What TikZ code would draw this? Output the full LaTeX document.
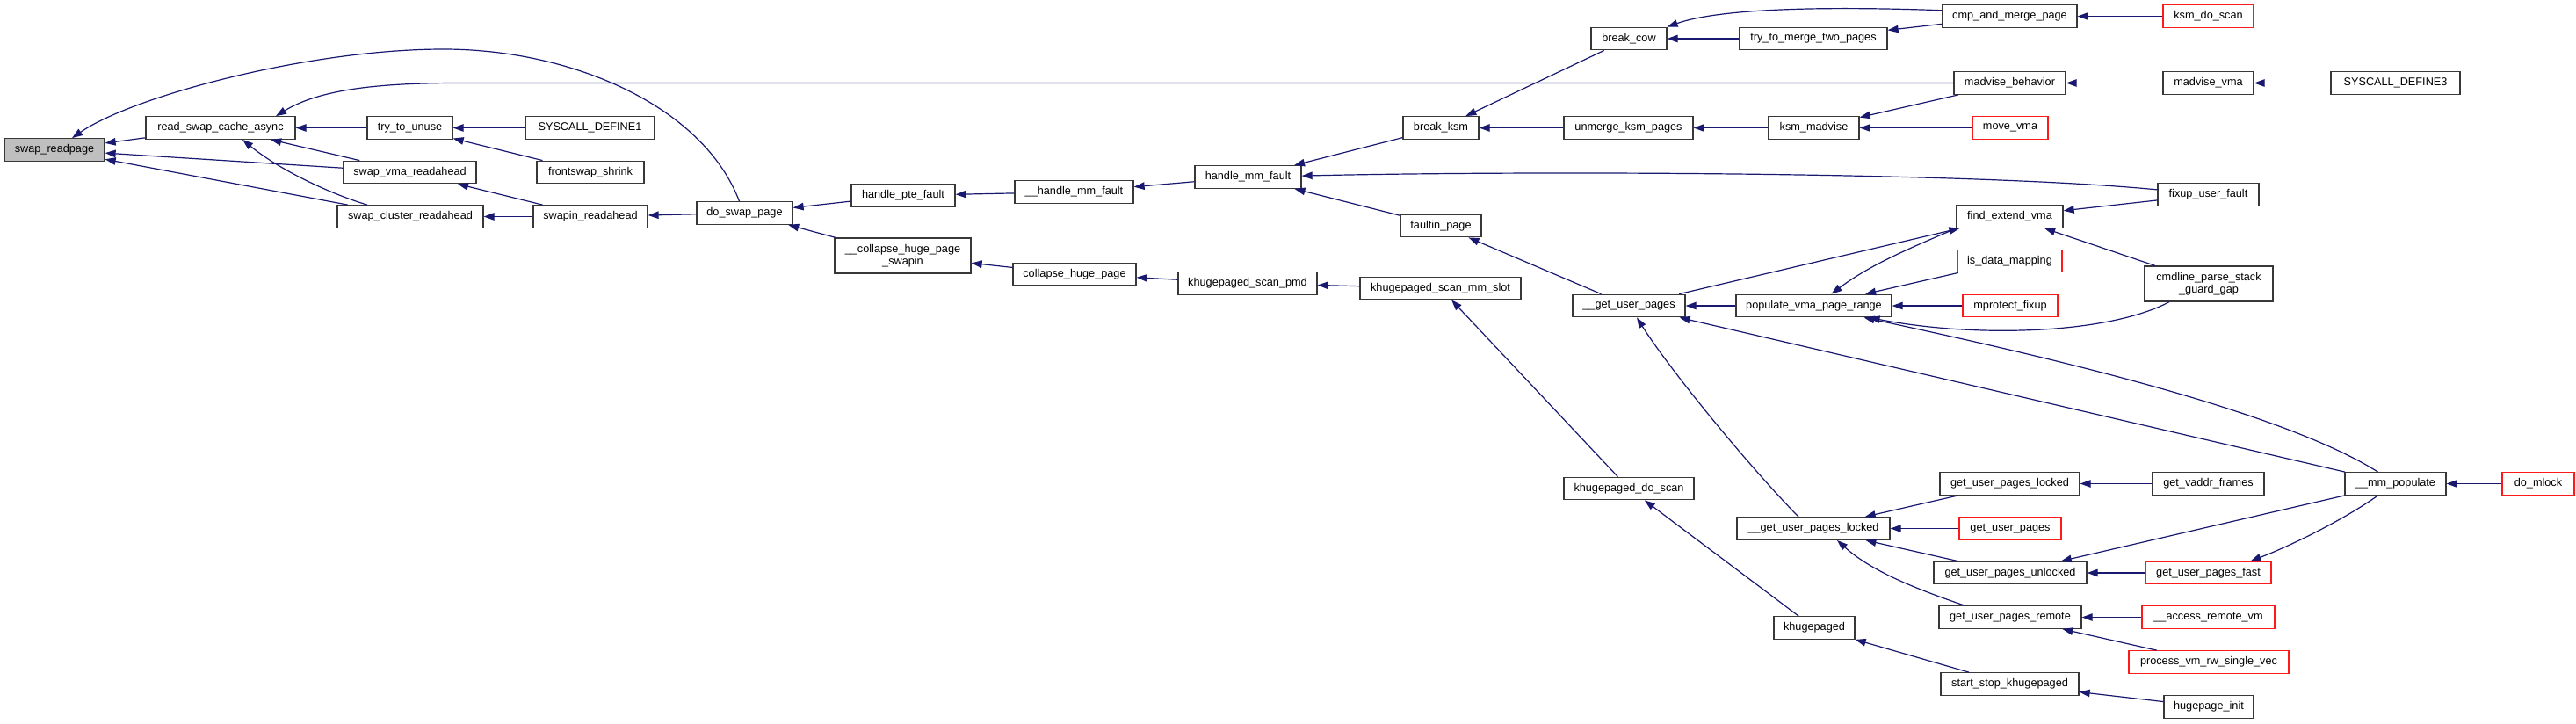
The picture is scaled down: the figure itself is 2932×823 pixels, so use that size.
\documentclass[tikz,border=0pt]{standalone}
\usepackage{fontspec}
\setmainfont{Liberation Sans}
\usetikzlibrary{arrows.meta}
\definecolor{callblue}{HTML}{191970}
\definecolor{frame}{HTML}{383838}
\definecolor{miss}{HTML}{FF1A1A}
\definecolor{root}{HTML}{BFBFBF}

\begin{document}
\begin{tikzpicture}[x=1pt,y=-1pt,
  fn/.style={draw=frame,line width=1.3pt,fill=white,inner sep=0pt,minimum height=25.5pt,minimum width=#1,align=center,font=\fontsize{12.7}{14}\selectfont},
  fnred/.style={fn=#1,draw=miss},
  call/.style={-{Triangle[length=12pt,width=8.5pt]},line width=1.2pt,draw=callblue,fill=none}
]
\useasboundingbox (0,0) rectangle (2932,823);
\node[fn=114,fill=root] (readpage) at (62,170.5) {swap\_readpage};
\node[fn=170] (readasync) at (251,145.5) {read\_swap\_cache\_async};
\node[fn=97] (tryunuse) at (466.5,145.5) {try\_to\_unuse};
\node[fn=147] (sysdefone) at (671.5,145.5) {SYSCALL\_DEFINE1};
\node[fn=151] (vmaread) at (466.5,196) {swap\_vma\_readahead};
\node[fn=122] (frontshrink) at (672,196) {frontswap\_shrink};
\node[fn=166] (clusterread) at (467,246.5) {swap\_cluster\_readahead};
\node[fn=130] (swapinread) at (672,246.5) {swapin\_readahead};
\node[fn=109] (doswap) at (847.5,242.5) {do\_swap\_page};
\node[fn=118] (ptefault) at (1028,222.5) {handle\_pte\_fault};
\node[fn=155,minimum height=40pt] (collswapin) at (1027.5,291) {\_\_collapse\_huge\_page\\\_swapin};
\node[fn=135] (hmmfault) at (1222.5,218.5) {\_\_handle\_mm\_fault};
\node[fn=140] (collapse) at (1223,312) {collapse\_huge\_page};
\node[fn=121] (mmfault) at (1420.5,201.5) {handle\_mm\_fault};
\node[fn=158] (scanpmd) at (1420,322.5) {khugepaged\_scan\_pmd};
\node[fn=183] (scanslot) at (1639.5,328) {khugepaged\_scan\_mm\_slot};
\node[fn=86] (breakksm) at (1640,145.5) {break\_ksm};
\node[fn=92] (faultin) at (1640,257) {faultin\_page};
\node[fn=148] (doscan) at (1854,556) {khugepaged\_do\_scan};
\node[fn=86] (breakcow) at (1854,44) {break\_cow};
\node[fn=147] (unmerge) at (1853.5,145.5) {unmerge\_ksm\_pages};
\node[fn=128] (gupinner) at (1854,348) {\_\_get\_user\_pages};
\node[fn=168] (mergetwo) at (2064,44) {try\_to\_merge\_two\_pages};
\node[fn=103] (ksmmadvise) at (2064.5,145.5) {ksm\_madvise};
\node[fn=177] (populate) at (2064.5,348) {populate\_vma\_page\_range};
\node[fn=174] (guplockedinner) at (2064,601.5) {\_\_get\_user\_pages\_locked};
\node[fn=92] (khugepaged) at (2065,714.5) {khugepaged};
\node[fn=153] (cmpmerge) at (2287.5,18.5) {cmp\_and\_merge\_page};
\node[fn=127] (madvbehav) at (2287.5,94.5) {madvise\_behavior};
\node[fnred=86] (movevma) at (2288,145.5) {move\_vma};
\node[fn=121] (findext) at (2287.5,246.5) {find\_extend\_vma};
\node[fnred=119] (isdata) at (2287.5,297) {is\_data\_mapping};
\node[fnred=108] (mprotect) at (2288,348) {mprotect\_fixup};
\node[fn=159] (guplocked) at (2287.5,550.5) {get\_user\_pages\_locked};
\node[fnred=116] (gup) at (2288,601.5) {get\_user\_pages};
\node[fn=174] (gupunlocked) at (2288,652) {get\_user\_pages\_unlocked};
\node[fn=162] (gupremote) at (2288,702.5) {get\_user\_pages\_remote};
\node[fn=157] (startstop) at (2287.5,778.5) {start\_stop\_khugepaged};
\node[fnred=103] (ksmscan) at (2513.5,18.5) {ksm\_do\_scan};
\node[fn=103] (madvvma) at (2513.5,94.5) {madvise\_vma};
\node[fn=115] (fixup) at (2513.5,221.5) {fixup\_user\_fault};
\node[fn=146,minimum height=40pt] (cmdline) at (2514,323) {cmdline\_parse\_stack\\\_guard\_gap};
\node[fn=127] (vaddr) at (2513.5,550.5) {get\_vaddr\_frames};
\node[fnred=143] (gupfast) at (2513.5,652) {get\_user\_pages\_fast};
\node[fnred=151] (accessremote) at (2513.5,702.5) {\_\_access\_remote\_vm};
\node[fnred=182] (processvm) at (2514,753.5) {process\_vm\_rw\_single\_vec};
\node[fn=102] (hugeinit) at (2514,804.5) {hugepage\_init};
\node[fn=147] (sysdefthree) at (2726.5,94.5) {SYSCALL\_DEFINE3};
\node[fn=115] (mmpopulate) at (2726.5,550.5) {\_\_mm\_populate};
\node[fnred=82] (domlock) at (2889,550.5) {do\_mlock};
% callers point back to callees
\draw[call] (readasync) -- (readpage);
\draw[call] (vmaread) -- (readpage);
\draw[call] (clusterread) -- (readpage);
\draw[call] ([xshift=-6pt]doswap.north) .. controls (800,120) and (650,56) .. (505,56) .. controls (350,56) and (150,110) .. ([xshift=20pt]readpage.north);
\draw[call] (tryunuse) -- (readasync);
\draw[call] (vmaread) -- (readasync);
\draw[call] ([xshift=-49pt]clusterread.north) .. controls (380,222) and (320,195) .. ([xshift=25pt]readasync.south);
\draw[call] (madvbehav) -- (520,94.5) .. controls (420,94.5) and (360,104) .. ([xshift=63pt]readasync.north);
\draw[call] (sysdefone) -- (tryunuse);
\draw[call] (frontshrink) -- (tryunuse);
\draw[call] (swapinread) -- (vmaread);
\draw[call] (swapinread) -- (clusterread);
\draw[call] (doswap) -- (swapinread);
\draw[call] (ptefault) -- (doswap);
\draw[call] (collswapin) -- (doswap);
\draw[call] (hmmfault) -- (ptefault);
\draw[call] (mmfault) -- (hmmfault);
\draw[call] (collapse) -- (collswapin);
\draw[call] (scanpmd) -- (collapse);
\draw[call] (scanslot) -- (scanpmd);
\draw[call] (breakksm) -- (mmfault);
\draw[call] (fixup) .. controls (2250,196) and (1750,194) .. (mmfault);
\draw[call] (faultin) -- (mmfault);
\draw[call] (breakcow) -- (breakksm);
\draw[call] (unmerge) -- (breakksm);
\draw[call] (cmpmerge.175) .. controls (2050,6) and (1950,12) .. (breakcow.north east);
\draw[call] (mergetwo) -- (breakcow);
\draw[call] (cmpmerge) -- (mergetwo);
\draw[call] (ksmscan) -- (cmpmerge);
\draw[call] (madvvma) -- (madvbehav);
\draw[call] (sysdefthree) -- (madvvma);
\draw[call] (ksmmadvise) -- (unmerge);
\draw[call] (madvbehav) -- (ksmmadvise);
\draw[call] (movevma) -- (ksmmadvise);
\draw[call] (gupinner) -- (faultin);
\draw[call] (doscan) -- (scanslot);
\draw[call] (khugepaged) -- (doscan);
\draw[call] (startstop) -- (khugepaged);
\draw[call] (hugeinit) -- (startstop);
\draw[call] (populate) -- (gupinner);
\draw[call] ([xshift=-17pt]guplockedinner.north) .. controls (1990,530) and (1900,420) .. ([xshift=9pt]gupinner.south);
\draw[call] (mmpopulate) -- (gupinner);
\draw[call] (gupinner) -- (findext);
\draw[call] (findext.south west) .. controls (2180,280) and (2130,300) .. ([xshift=20pt]populate.north);
\draw[call] (isdata) -- (populate);
\draw[call] (mprotect) -- (populate);
\draw[call] ([xshift=-20pt]mmpopulate.north) .. controls (2600,470) and (2350,410) .. ([xshift=57pt]populate.south);
\draw[call] ([xshift=-45pt]cmdline.south) .. controls (2400,380) and (2250,385) .. ([xshift=63pt]populate.south);
\draw[call] (fixup) -- (findext);
\draw[call] (cmdline) -- (findext);
\draw[call] (guplocked) -- (guplockedinner);
\draw[call] (gup) -- (guplockedinner);
\draw[call] (gupunlocked) -- (guplockedinner);
\draw[call] ([xshift=-52pt]gupremote.north) .. controls (2180,670) and (2130,650) .. ([xshift=27pt]guplockedinner.south);
\draw[call] (vaddr) -- (guplocked);
\draw[call] (mmpopulate) -- (gupunlocked);
\draw[call] (gupfast) -- (gupunlocked);
\draw[call] ([xshift=-20pt]mmpopulate.south) .. controls (2670,590) and (2610,620) .. ([xshift=48pt]gupfast.north);
\draw[call] (domlock) -- (mmpopulate);
\draw[call] (accessremote) -- (gupremote);
\draw[call] (processvm) -- (gupremote);
\end{tikzpicture}
\end{document}
